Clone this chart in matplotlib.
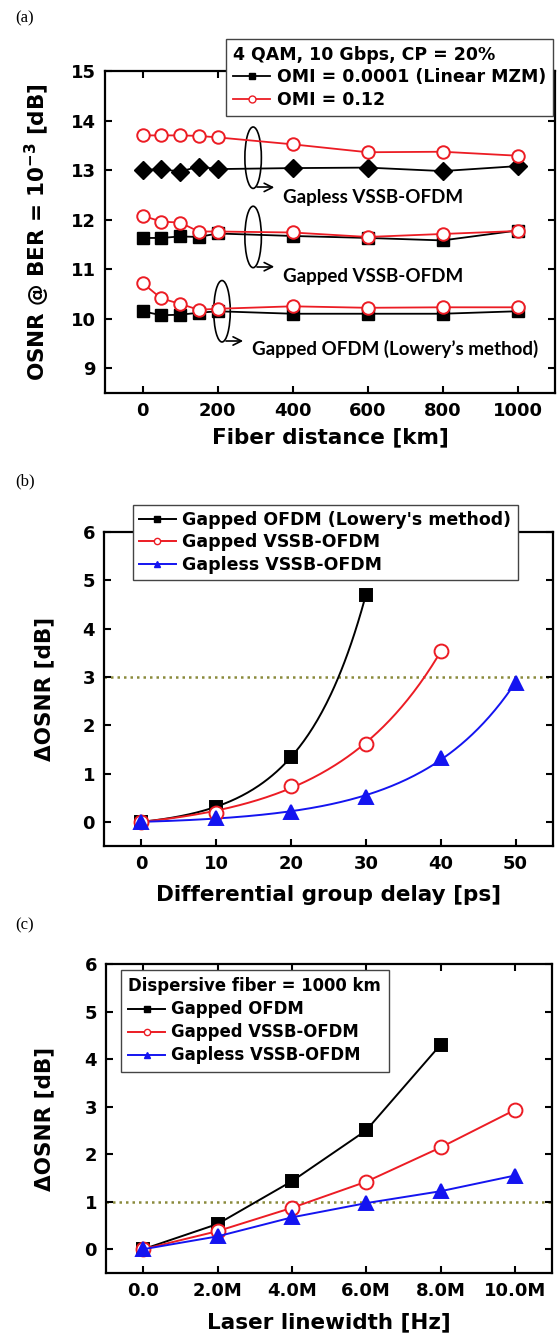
import numpy as np
import matplotlib
matplotlib.use("Agg")
import matplotlib.pyplot as plt
from matplotlib.lines import Line2D
from matplotlib.patches import Ellipse
from matplotlib.ticker import FuncFormatter

plt.rcParams['font.family'] = ['DejaVu Sans']
plt.rcParams['font.weight'] = 'bold'
plt.rcParams['mathtext.fontset'] = 'dejavusans'

RED = '#ec1c24'
BLUE = '#1414f0'
OLIVE = '#8a8a3c'

# (a) OSNR vs fiber distance
dist_km = np.array([0, 50, 100, 150, 200, 400, 600, 800, 1000])
gapless_lin = [13.00, 13.02, 12.97, 13.07, 13.02, 13.04, 13.05, 12.98, 13.08]
gapless_omi = [13.70, 13.70, 13.70, 13.69, 13.66, 13.52, 13.36, 13.37, 13.29]
gapped_vssb_lin = [11.63, 11.63, 11.66, 11.65, 11.72, 11.67, 11.63, 11.58, 11.78]
gapped_vssb_omi = [12.08, 11.96, 11.94, 11.76, 11.76, 11.74, 11.65, 11.71, 11.77]
gapped_ofdm_lin = [10.15, 10.07, 10.08, 10.12, 10.15, 10.10, 10.10, 10.10, 10.15]
gapped_ofdm_omi = [10.72, 10.41, 10.30, 10.18, 10.20, 10.25, 10.22, 10.23, 10.23]

# (b) delta OSNR vs DGD
dgd_ps = np.array([0, 10, 20, 30, 40, 50])
dgd_gapped_ofdm = [0.0, 0.30, 1.35, 4.70]
dgd_gapped_vssb = [0.0, 0.18, 0.75, 1.62, 3.53]
dgd_gapless_vssb = [0.0, 0.08, 0.20, 0.52, 1.32, 2.88]

# (c) delta OSNR vs laser linewidth
lw_hz = np.array([0, 2e6, 4e6, 6e6, 8e6, 10e6])
lw_gapped_ofdm = [0.0, 0.53, 1.43, 2.50, 4.30]
lw_gapped_vssb = [0.0, 0.38, 0.87, 1.42, 2.14, 2.93]
lw_gapless_vssb = [0.0, 0.27, 0.67, 0.97, 1.22, 1.55]

TICK_FS = 13
LAB_FS = 15.5
LEG_FS = 12.5


def exp_fit(x, y):
    # least squares y = a*(exp(x/tau)-1), tau by grid search
    x = np.asarray(x, float)
    y = np.asarray(y, float)
    best = None
    for tau in np.linspace(3, 80, 3000):
        basis = np.expm1(x / tau)
        a = basis @ y / (basis @ basis)
        err = np.sum((a * basis - y) ** 2)
        if best is None or err < best[0]:
            best = (err, a, tau)
    return best[1], best[2]


def style_axes(ax):
    for s in ax.spines.values():
        s.set_linewidth(1.6)
    ax.tick_params(direction='in', top=True, right=True, length=5, width=1.5,
                   labelsize=TICK_FS, pad=6.5)
    for t in ax.get_xticklabels() + ax.get_yticklabels():
        t.set_fontweight('bold')


def place_labels(ax, xl, yl, xy, yx):
    ax.set_xlabel(xl, fontsize=LAB_FS, fontweight='bold')
    ax.set_ylabel(yl, fontsize=LAB_FS, fontweight='bold')
    ax.xaxis.set_label_coords(0.5, xy)
    ax.xaxis.label.set_verticalalignment('center')
    ax.yaxis.set_label_coords(yx, 0.5)
    ax.yaxis.label.set_verticalalignment('center')


def frame_legend(leg):
    leg.get_frame().set_linewidth(1.0)
    for t in leg.get_texts():
        t.set_fontweight('bold')


fig = plt.figure(figsize=(5.6, 13.36), dpi=100)
W, H = 560.0, 1336.0


def add_axes(l, t, r, b):
    return fig.add_axes([l / W, 1 - b / H, (r - l) / W, (b - t) / H])


# ---------------- (a)
ax = add_axes(105, 71, 555, 393)
ax.plot(dist_km, gapless_lin, '-', color='k', lw=1.3, marker='D', ms=9, mfc='k', mec='k')
ax.plot(dist_km, gapless_omi, '-', color=RED, lw=1.3, marker='o', ms=9, mfc='white', mec=RED, mew=1.4)
ax.plot(dist_km, gapped_vssb_lin, '-', color='k', lw=1.3, marker='s', ms=8, mfc='k', mec='k')
ax.plot(dist_km, gapped_vssb_omi, '-', color=RED, lw=1.3, marker='o', ms=9, mfc='white', mec=RED, mew=1.4)
ax.plot(dist_km, gapped_ofdm_lin, '-', color='k', lw=1.3, marker='s', ms=8, mfc='k', mec='k')
ax.plot(dist_km, gapped_ofdm_omi, '-', color=RED, lw=1.3, marker='o', ms=9, mfc='white', mec=RED, mew=1.4)
ax.set_xlim(-100, 1100)
ax.set_ylim(8.5, 15)
ax.set_xticks([0, 200, 400, 600, 800, 1000])
ax.set_yticks([9, 10, 11, 12, 13, 14, 15])
style_axes(ax)
place_labels(ax, 'Fiber distance [km]', r'OSNR @ BER = 10$^{\mathbf{-3}}$ [dB]', -0.137, -0.151)

notes = [(295, 13.25, 'Gapless VSSB-OFDM', 12.45),
         (295, 11.65, 'Gapped VSSB-OFDM', 10.85),
         (212, 10.15, "Gapped OFDM (Lowery\u2019s method)", 9.38)]
for xc, yc, txt, ty in notes:
    ax.add_patch(Ellipse((xc, yc), width=44, height=1.24, fill=False, ec='k', lw=1.2))
    ax.annotate('', xy=(xc + 64, yc - 0.6), xytext=(xc + 4, yc - 0.58),
                arrowprops=dict(arrowstyle='->', color='k', lw=1.2,
                                mutation_scale=15,
                                connectionstyle='angle,angleA=-70,angleB=0,rad=0'))
    ax.text(xc + 80, ty, txt, fontsize=13.5, fontweight='bold', family=['Lato', 'DejaVu Sans'],
            va='center', ha='left')

h_a = [Line2D([], [], color='k', lw=1.3, marker='s', ms=4.5),
       Line2D([], [], color=RED, lw=1.3, marker='o', ms=5, mfc='white', mec=RED)]
leg = ax.legend(h_a, ['OMI = 0.0001 (Linear MZM)', 'OMI = 0.12'],
                title='4 QAM, 10 Gbps, CP = 20%', alignment='left',
                loc='upper right', bbox_to_anchor=(553 / W, 1 - 39 / H),
                bbox_transform=fig.transFigure, fontsize=LEG_FS,
                title_fontproperties={'weight': 'bold', 'size': LEG_FS},
                frameon=True, fancybox=False, framealpha=1, edgecolor='#444444',
                handlelength=2.1, handletextpad=0.4, borderpad=0.4, labelspacing=0.25,
                borderaxespad=0)
frame_legend(leg)

# ---------------- (b)
ax = add_axes(104, 532, 553, 846)
ax.axhline(3, color=OLIVE, lw=1.8, ls=(0, (1, 1.6)), zorder=1)
series_b = [(dgd_gapped_ofdm, 'k', 's', 'k', 9, 'Gapped OFDM (Lowery\'s method)'),
            (dgd_gapped_vssb, RED, 'o', 'white', 10, 'Gapped VSSB-OFDM'),
            (dgd_gapless_vssb, BLUE, '^', BLUE, 10, 'Gapless VSSB-OFDM')]
handles_b = []
for ys, c, m, fc, ms, lab in series_b:
    xs = dgd_ps[:len(ys)]
    a, tau = exp_fit(xs, ys)
    xf = np.linspace(0, xs[-1], 200)
    ax.plot(xf, a * np.expm1(xf / tau), color=c, lw=1.4, zorder=2)
    ax.plot(xs, ys, ls='none', marker=m, ms=ms, mfc=fc, mec=c, mew=1.4, zorder=3)
    handles_b.append(Line2D([], [], color=c, lw=1.4, marker=m, ms=4.5, mfc=fc, mec=c))
ax.set_xlim(-5, 55)
ax.set_ylim(-0.5, 6)
ax.set_xticks([0, 10, 20, 30, 40, 50])
ax.set_yticks([0, 1, 2, 3, 4, 5, 6])
style_axes(ax)
place_labels(ax, 'Differential group delay [ps]', '\u0394OSNR [dB]', -0.156, -0.134)
leg = ax.legend(handles_b, [s[5] for s in series_b], loc='upper left',
                bbox_to_anchor=(133 / W, 1 - 505 / H), bbox_transform=fig.transFigure,
                fontsize=LEG_FS, frameon=True, fancybox=False, framealpha=1,
                edgecolor='#444444', handlelength=2.1, handletextpad=0.4,
                borderpad=0.35, labelspacing=0.25, borderaxespad=0)
frame_legend(leg)

# ---------------- (c)
ax = add_axes(106, 964, 552, 1273)
ax.axhline(1, color=OLIVE, lw=1.8, ls=(0, (1, 1.6)), zorder=1)
series_c = [(lw_gapped_ofdm, 'k', 's', 'k', 9, 'Gapped OFDM'),
            (lw_gapped_vssb, RED, 'o', 'white', 10, 'Gapped VSSB-OFDM'),
            (lw_gapless_vssb, BLUE, '^', BLUE, 10, 'Gapless VSSB-OFDM')]
handles_c = []
for ys, c, m, fc, ms, lab in series_c:
    xs = lw_hz[:len(ys)]
    ax.plot(xs, ys, color=c, lw=1.4, marker=m, ms=ms, mfc=fc, mec=c, mew=1.4, zorder=3)
    handles_c.append(Line2D([], [], color=c, lw=1.4, marker=m, ms=4.5, mfc=fc, mec=c))
ax.set_xlim(-1e6, 11e6)
ax.set_ylim(-0.5, 6)
ax.set_xticks(lw_hz)
ax.xaxis.set_major_formatter(FuncFormatter(lambda v, p: '0.0' if v == 0 else '%.1fM' % (v / 1e6)))
ax.set_yticks([0, 1, 2, 3, 4, 5, 6])
style_axes(ax)
place_labels(ax, 'Laser linewidth [Hz]', '\u0394OSNR [dB]', -0.159, -0.139)
leg = ax.legend(handles_c, [s[5] for s in series_c], title='Dispersive fiber = 1000 km',
                alignment='left', loc='upper left',
                bbox_to_anchor=(121 / W, 1 - 970 / H), bbox_transform=fig.transFigure,
                fontsize=11.9, title_fontproperties={'weight': 'bold', 'size': 11.9},
                frameon=True, fancybox=False, framealpha=1,
                edgecolor='#444444', handlelength=2.2, handletextpad=0.4,
                borderpad=0.45, labelspacing=0.3, borderaxespad=0)
frame_legend(leg)

# panel letters
for lab, y in [('(a)', 18), ('(b)', 481), ('(c)', 925)]:
    fig.text(15 / W, 1 - y / H, lab, fontsize=12, family=['Liberation Serif'],
             fontweight='normal', va='center', ha='left')

fig.savefig('out.png', dpi=100)
